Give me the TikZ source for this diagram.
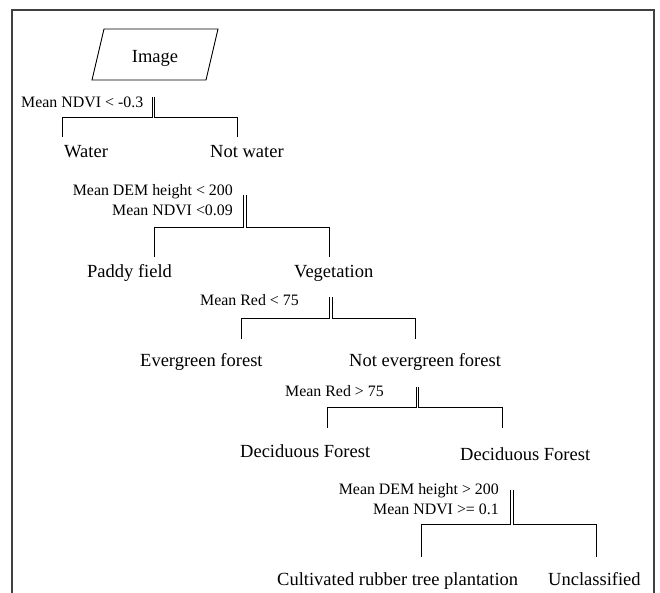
\documentclass[tikz,border=0pt]{standalone}
\usepackage{fontspec}
\setmainfont{Liberation Serif}
\begin{document}
\begin{tikzpicture}[x=1pt,y=-1pt,
  big/.style={inner sep=0pt, font=\fontsize{18.5}{20}\selectfont},
  small/.style={inner sep=0pt, font=\fontsize{15.9}{18}\selectfont},
  br/.style={draw=black, line width=0.9pt},
  frame/.style={draw=black!75, line width=1.2pt}]
\useasboundingbox (0,0) rectangle (660,593);
% frame
\draw[frame] (12,593) -- (12,10) -- (654,10) -- (654,593);
% input parallelogram
\coordinate (p1) at (104,29);
\coordinate (p2) at (218,29);
\coordinate (p3) at (206,80);
\coordinate (p4) at (92,80);
\draw[br] (p1) -- (p2) -- (p3) -- (p4) -- cycle;
\node[big, anchor=base] (img) at (155,63) {Image};

% level 1
\node[small, anchor=base west] (c1) at (21,108) {Mean NDVI < -0.3};
\node[big, anchor=base west] (water) at (64,158) {Water};
\node[big, anchor=base west] (notwater) at (210,158) {Not water};
\coordinate (a1l) at (152,97); \coordinate (a1r) at (154,97);
\coordinate (b1l) at (62,137); \coordinate (b1r) at (237,137);
\draw[br] (a1l) -- (152,117) -| (b1l);
\draw[br] (a1r) -- (154,117) -| (b1r);

% level 2
\node[small, anchor=base east] (c2a) at (233,196) {Mean DEM height < 200};
\node[small, anchor=base east] (c2b) at (233,216) {Mean NDVI <0.09};
\node[big, anchor=base west] (paddy) at (87,277) {Paddy field};
\node[big, anchor=base west] (veg) at (294,277) {Vegetation};
\coordinate (a2l) at (243,195); \coordinate (a2r) at (246,195);
\coordinate (b2l) at (154,257); \coordinate (b2r) at (329,257);
\draw[br] (a2l) -- (243,227) -| (b2l);
\draw[br] (a2r) -- (246,227) -| (b2r);

% level 3
\node[small, anchor=base west] (c3) at (200,305) {Mean Red < 75};
\node[big, anchor=base west] (ever) at (140,366) {Evergreen forest};
\node[big, anchor=base west] (notever) at (349,366) {Not evergreen forest};
\coordinate (a3l) at (329,297); \coordinate (a3r) at (332,297);
\coordinate (b3l) at (241,339); \coordinate (b3r) at (415,339);
\draw[br] (a3l) -- (329,318) -| (b3l);
\draw[br] (a3r) -- (332,318) -| (b3r);

% level 4
\node[small, anchor=base west] (c4) at (285,396) {Mean Red > 75};
\node[big, anchor=base west] (dec1) at (240,457) {Deciduous Forest};
\node[big, anchor=base west] (dec2) at (460,460) {Deciduous Forest};
\coordinate (a4l) at (416,387); \coordinate (a4r) at (418,387);
\coordinate (b4l) at (327,428); \coordinate (b4r) at (502,428);
\draw[br] (a4l) -- (416,407) -| (b4l);
\draw[br] (a4r) -- (418,407) -| (b4r);

% level 5
\node[small, anchor=base east] (c5a) at (499,494) {Mean DEM height > 200};
\node[small, anchor=base east] (c5b) at (499,514) {Mean NDVI >= 0.1};
\node[big, anchor=base west] (rubber) at (277,585) {Cultivated rubber tree plantation};
\node[big, anchor=base west] (uncl) at (548,585) {Unclassified};
\coordinate (a5l) at (510,490); \coordinate (a5r) at (513,490);
\coordinate (b5l) at (421,557); \coordinate (b5r) at (596,557);
\draw[br] (a5l) -- (510,524) -| (b5l);
\draw[br] (a5r) -- (513,524) -| (b5r);
\end{tikzpicture}
\end{document}
